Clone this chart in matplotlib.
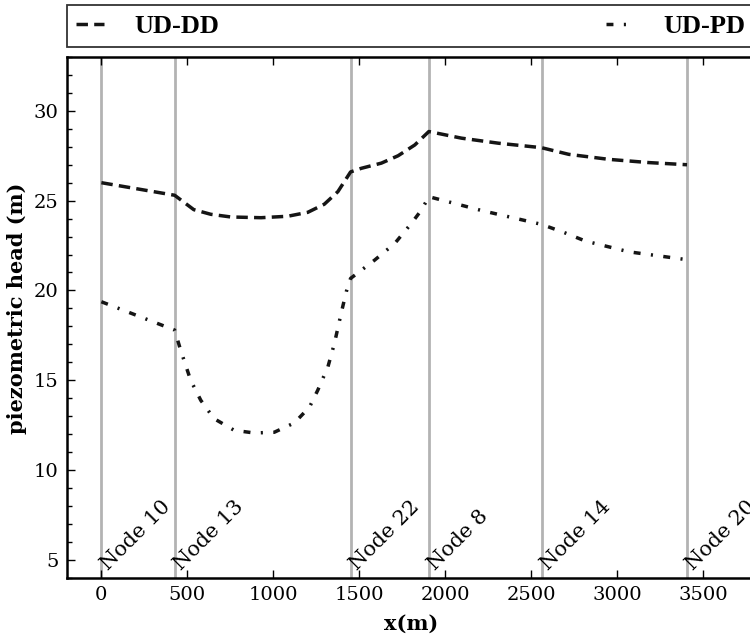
import matplotlib
matplotlib.use("Agg")
import matplotlib.pyplot as plt
from matplotlib.ticker import MultipleLocator

# node positions along the pipe (m)
node_x = [0, 426, 1449, 1904, 2559, 3405]
node_names = ["Node 10", "Node 13", "Node 22", "Node 8", "Node 14", "Node 20"]

# UD-DD head profile
dd_x = [0, 426, 537, 636, 753, 928, 1083, 1200, 1296, 1375, 1449,
        1511, 1628, 1725, 1822, 1904, 2094, 2308, 2559, 2717, 2950, 3183, 3405]
dd_y = [26.0, 25.3, 24.5, 24.24, 24.09, 24.05, 24.13, 24.35, 24.8, 25.5, 26.6,
        26.8, 27.09, 27.5, 28.1, 28.85, 28.48, 28.2, 27.95, 27.58, 27.3, 27.12, 27.0]

# UD-PD head profile
pd_x = [0, 426, 461, 519, 578, 655, 772, 889, 1005, 1122, 1210, 1258, 1317,
        1355, 1394, 1424, 1449, 1589, 1706, 1803, 1861, 1904, 2211, 2559,
        2697, 2814, 3067, 3390]
pd_y = [19.37, 17.79, 16.67, 15.0, 13.88, 12.86, 12.21, 12.06, 12.1, 12.62, 13.5,
        14.44, 15.74, 17.05, 18.72, 19.93, 20.67, 21.69, 22.62, 23.74, 24.48,
        25.22, 24.45, 23.68, 23.2, 22.75, 22.15, 21.73]

plt.rcParams['font.family'] = 'DejaVu Serif'

fig = plt.figure(figsize=(7.5, 6.37), dpi=100)
ax = fig.add_axes([0.0893, 0.0931, 0.9173, 0.8174])

for xn, name in zip(node_x, node_names):
    ax.axvline(xn, color='#b3b3b3', lw=2.0, zorder=1)
    ax.annotate(name, xy=(xn, 4), xytext=(4.5, 4.5), textcoords='offset points',
                rotation=45, rotation_mode='anchor', ha='left', va='baseline',
                fontsize=15, zorder=3)

ax.plot(dd_x, dd_y, color='#151515', lw=2.5, ls=(0, (3.3, 1.8)), label='UD-DD', zorder=2)
ax.plot(pd_x, pd_y, color='#151515', lw=2.5, ls=(0, (2.0, 3.0, 0.6, 3.0)), label='UD-PD', zorder=2)

ax.set_xlim(-200, 3800)
ax.set_ylim(4, 33)
ax.set_xticks([0, 500, 1000, 1500, 2000, 2500, 3000, 3500])
ax.set_yticks([5, 10, 15, 20, 25, 30])
ax.yaxis.set_minor_locator(MultipleLocator(1))
ax.tick_params(which='both', direction='in', top=True, right=False, labelsize=14, width=1.0)
ax.tick_params(which='major', length=6)
ax.tick_params(which='minor', length=3.5)
ax.tick_params(axis='x', which='minor', bottom=False, top=False)
ax.tick_params(axis='x', pad=6)
ax.tick_params(axis='y', pad=6)
for sp in ax.spines.values():
    sp.set_linewidth(1.8)

ax.set_xlabel('x(m)', fontweight='bold', fontsize=15, labelpad=7)
ax.set_ylabel('piezometric head (m)', fontweight='bold', fontsize=15)
ax.yaxis.set_label_coords(-0.058, 0.518)

leg = ax.legend(loc='lower left', bbox_to_anchor=(0, 1.019, 1, 0.074), mode='expand',
                ncol=2, borderaxespad=0, fancybox=False, framealpha=1,
                edgecolor='#333333', handlelength=1.05, handletextpad=1.15,
                borderpad=0.35, prop={'family': 'Liberation Serif', 'weight': 'bold', 'size': 19})
leg.get_frame().set_linewidth(1.3)
leg._legend_box.align = 'left'
for t in leg.get_texts():
    t.set_x(0)

fig.savefig('out.png', dpi=100)
